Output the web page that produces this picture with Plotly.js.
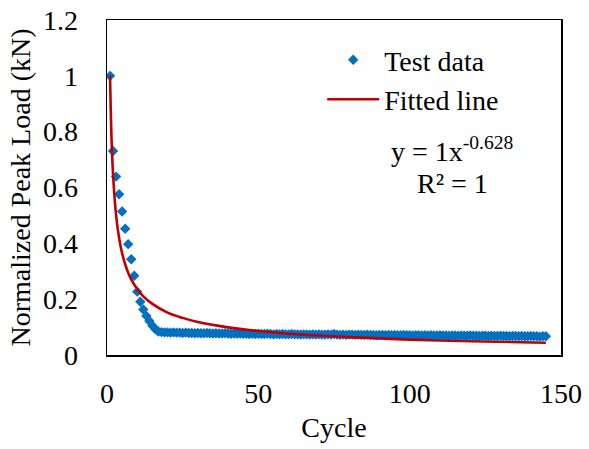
<!DOCTYPE html>
<html>
<head>
<meta charset="utf-8">
<script src="https://cdn.plot.ly/plotly-3.0.1.min.js"></script>
<style>html,body{margin:0;padding:0;background:#fff;}#chart{width:589px;height:449px;}</style>
</head>
<body>
<div id="chart"></div>
<script>
// Test data: cycle numbers and normalized peak load
const cycles = [];
for (let i = 1; i <= 145; i++) cycles.push(i);
const testLoad = [
  1.0, 0.731, 0.639, 0.576, 0.514, 0.452, 0.397, 0.343, 0.284, 0.227,
  0.191, 0.163, 0.140, 0.122, 0.105, 0.092, 0.084,
  0.082,0.081,0.081,0.080,0.081,0.080,0.080,0.079,0.080,0.079,
  0.079,0.078,0.079,0.078,0.078,0.079,0.078,0.077,0.078,0.077,
  0.077,0.078,0.077,0.076,0.077,0.076,0.077,0.076,0.076,0.075,
  0.076,0.075,0.076,0.075,0.075,0.076,0.075,0.074,0.075,0.074,
  0.075,0.074,0.074,0.075,0.074,0.074,0.073,0.074,0.074,0.073,
  0.074,0.073,0.074,0.073,0.073,0.074,0.073,0.075,0.073,0.072,
  0.073,0.072,0.073,0.073,0.072,0.073,0.072,0.072,0.073,0.072,
  0.072,0.071,0.072,0.072,0.071,0.072,0.071,0.072,0.071,0.071,
  0.072,0.071,0.071,0.070,0.071,0.071,0.070,0.071,0.070,0.071,
  0.070,0.070,0.071,0.070,0.070,0.069,0.070,0.070,0.069,0.070,
  0.069,0.069,0.070,0.069,0.069,0.068,0.069,0.069,0.068,0.069,
  0.068,0.068,0.069,0.068,0.068,0.067,0.068,0.068,0.067,0.068,
  0.067,0.067,0.068,0.067,0.067,0.066,0.067,0.067
];
// Fitted line
const fitCycle = [1, 1.5, 2, 3, 4, 5, 6, 7, 8, 10, 12, 15, 20, 25, 30, 40, 50, 60, 80, 100, 120, 145];
const fitLoad  = [1.0, 0.775, 0.647, 0.501, 0.419, 0.364, 0.325, 0.295, 0.271, 0.236, 0.210, 0.183, 0.152, 0.133, 0.118, 0.099, 0.086, 0.076, 0.064, 0.055, 0.049, 0.044];
const xTicks = [0, 50, 100, 150];
const yTicks = [0, 0.2, 0.4, 0.6, 0.8, 1, 1.2];
const yTickText = ['0', '0.2', '0.4', '0.6', '0.8', '1', '1.2'];

const FONT = "'Liberation Serif', 'Times New Roman', serif";

const traces = [
  {
    x: cycles, y: testLoad, type: 'scatter', mode: 'markers', name: 'Test data',
    marker: {symbol: 'diamond', size: 8, color: '#0070C0'}
  },
  {
    x: fitCycle, y: fitLoad, type: 'scatter', mode: 'lines', name: 'Fitted line',
    line: {color: '#C00000', width: 2.6, shape: 'spline'}
  }
];

const layout = {
  width: 589, height: 449,
  margin: {l: 107, r: 28, t: 20, b: 94},
  paper_bgcolor: '#fff', plot_bgcolor: '#fff',
  font: {family: FONT, size: 28, color: '#000'},
  showlegend: true,
  legend: {x: 0.474, y: 0.955, xanchor: 'left', yanchor: 'top', bgcolor: 'rgba(0,0,0,0)',
           itemwidth: 52,
           font: {family: FONT, size: 28, color: '#000'}, tracegroupgap: 0},
  xaxis: {
    range: [0, 150], tickvals: xTicks, showgrid: false, zeroline: false,
    showline: true, mirror: true, linecolor: '#000', linewidth: 1.5, ticks: '',
    tickfont: {family: FONT, size: 28}, ticklabelstandoff: 13,
    title: {text: 'Cycle', font: {family: FONT, size: 28}, standoff: 9}
  },
  yaxis: {
    range: [0, 1.2], tickvals: yTicks, ticktext: yTickText, showgrid: false, zeroline: false,
    showline: true, mirror: true, linecolor: '#000', linewidth: 1.5,
    ticks: 'outside', ticklen: 22, tickcolor: 'rgba(0,0,0,0)',
    tickfont: {family: FONT, size: 28},
    title: {text: 'Normalized Peak Load (kN)', font: {family: FONT, size: 28}, standoff: 4}
  },
  annotations: [
    {xref: 'paper', yref: 'paper', x: 0.76, y: 0.612, xanchor: 'center', yanchor: 'middle',
     text: 'y = 1x<sup>-0.628</sup>', showarrow: false, font: {family: FONT, size: 28}},
    {xref: 'paper', yref: 'paper', x: 0.76, y: 0.513, xanchor: 'center', yanchor: 'middle',
     text: 'R² = 1', showarrow: false, font: {family: FONT, size: 28}}
  ]
};

Plotly.newPlot('chart', traces, layout, {displayModeBar: false, staticPlot: true});
</script>
</body>
</html>
